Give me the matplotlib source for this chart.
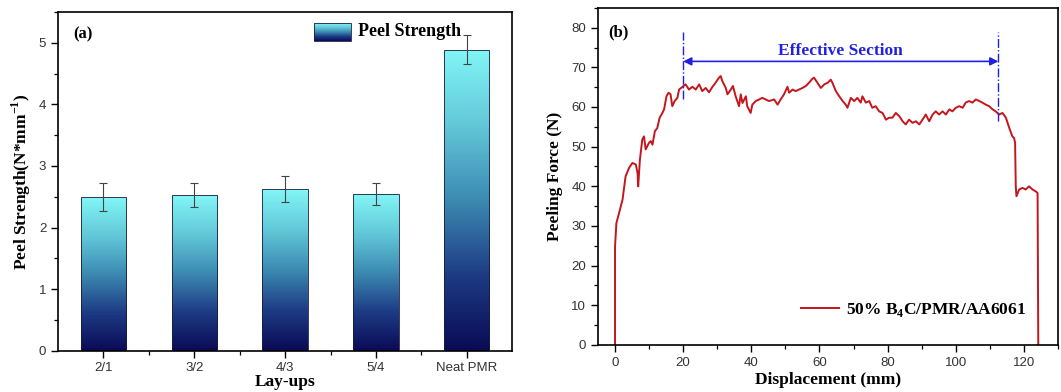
import numpy as np
import matplotlib
matplotlib.use("Agg")
import matplotlib.pyplot as plt
from matplotlib.colors import LinearSegmentedColormap
from matplotlib.image import BboxImage
from matplotlib.transforms import Bbox, TransformedBbox
from matplotlib.ticker import MultipleLocator, FixedLocator

# ---------------- data ----------------
layups = ["2/1", "3/2", "4/3", "5/4", "Neat PMR"]
peel_strength = [2.50, 2.53, 2.62, 2.54, 4.89]
peel_err = [0.23, 0.20, 0.21, 0.18, 0.24]

disp = [0.0, 0.0, 0.4, 1.2, 2.2, 3.1, 4.1, 5.1, 6.1, 6.6, 6.8, 7.3, 8.0, 8.5, 9.0,
        10.0, 10.5, 11.0, 11.7, 12.4, 13.1, 13.9, 14.4, 15.1, 15.7, 16.3, 16.8,
        17.5, 18.3, 18.8, 19.8, 20.7, 21.7, 22.7, 23.7, 24.7, 25.6, 26.6, 27.6,
        28.6, 29.5, 30.5, 31.0, 31.5, 32.5, 33.0, 34.0, 34.6, 35.4, 36.4, 36.9,
        37.4, 38.4, 38.8, 39.8, 40.3, 41.3, 42.3, 43.2, 44.2, 45.2, 46.7, 47.7,
        48.6, 49.6, 50.6, 51.1, 52.1, 53.0, 54.0, 55.0, 56.0, 56.9, 57.9, 58.4,
        59.4, 60.4, 61.4, 62.4, 63.3, 63.8, 64.8, 65.8, 66.8, 67.7, 68.2, 69.2,
        70.2, 71.1, 72.1, 72.6, 73.6, 74.6, 75.5, 76.5, 77.5, 78.5, 79.5, 80.4,
        81.4, 82.4, 83.4, 84.4, 85.3, 86.3, 87.3, 88.3, 89.3, 90.2, 91.2, 92.2,
        93.2, 94.1, 95.1, 96.1, 97.1, 98.1, 99.0, 100.0, 101.0, 102.0, 102.9,
        103.9, 104.9, 105.9, 106.9, 107.8, 108.8, 109.8, 110.8, 111.7, 112.7,
        113.7, 114.7, 115.7, 116.2, 116.6, 117.1, 117.4, 117.6, 117.8, 118.6,
        119.6, 120.5, 121.5, 122.5, 123.5, 124.0, 124.2]
force = [0.0, 24.8, 30.7, 33.3, 36.6, 42.5, 44.6, 45.9, 45.5, 43.4, 40.0, 46.7,
         51.8, 52.6, 49.3, 51.0, 51.4, 50.5, 53.9, 54.7, 57.3, 58.5, 59.4, 62.7,
         63.6, 63.2, 60.2, 61.5, 62.3, 64.4, 65.1, 65.7, 64.4, 65.1, 64.4, 65.7,
         64.0, 64.8, 63.7, 65.1, 66.1, 67.4, 67.8, 66.5, 64.8, 63.2, 64.4, 65.3,
         62.7, 60.2, 63.2, 61.0, 62.7, 60.2, 58.5, 60.6, 61.5, 61.9, 62.3, 61.9,
         61.5, 61.9, 60.6, 61.9, 63.2, 65.1, 63.6, 64.4, 64.0, 64.4, 64.8, 65.3,
         66.1, 67.1, 67.4, 66.1, 64.8, 65.7, 66.1, 66.9, 66.1, 64.0, 62.7, 61.5,
         60.6, 59.8, 62.3, 61.5, 62.3, 61.1, 62.7, 61.1, 61.5, 59.8, 60.2, 58.9,
         58.5, 56.8, 57.3, 57.3, 58.5, 57.7, 56.4, 55.6, 56.8, 56.0, 56.4, 55.6,
         56.8, 58.1, 56.4, 58.1, 58.9, 58.1, 58.9, 58.1, 59.4, 58.9, 59.8, 60.2,
         59.8, 61.1, 61.5, 61.1, 61.9, 61.5, 61.1, 60.6, 60.2, 59.4, 58.9, 58.1,
         58.5, 57.3, 54.7, 53.5, 52.6, 52.2, 51.0, 40.0, 37.5, 39.2, 39.6, 39.2,
         40.0, 39.2, 38.7, 38.3, 0.0]

effective_section = [20, 112.5]

# ---------------- style ----------------
serif = ["Liberation Serif", "DejaVu Serif"]
sans = ["Liberation Sans", "DejaVu Sans"]
plt.rcParams["font.family"] = sans
plt.rcParams["axes.linewidth"] = 1.2
plt.rcParams["mathtext.fontset"] = "custom"
plt.rcParams["mathtext.rm"] = "Liberation Serif"
plt.rcParams["mathtext.bf"] = "Liberation Serif:bold"

grad_cmap = LinearSegmentedColormap.from_list(
    "peel", ["#0a0a55", "#1d3b84", "#3c8ab2", "#62c8d8", "#82f6f6"])
grad = np.linspace(0, 1, 256).reshape(-1, 1)

fig = plt.figure(figsize=(10.61, 3.92), dpi=100)
ax1 = fig.add_axes([0.0547, 0.1054, 0.428, 0.864])
ax2 = fig.add_axes([0.5636, 0.12, 0.4336, 0.86])


def style_ticks(ax):
    ax.tick_params(which="major", direction="out", length=5, width=1.0,
                   labelsize=9.5, labelcolor="#333333", top=False, right=False)
    ax.tick_params(which="minor", direction="out", length=3, width=0.9,
                   top=False, right=False)


# ---------------- (a) peel strength bars ----------------
x = np.arange(1, len(layups) + 1)
bars = ax1.bar(x, peel_strength, width=0.5, color="none",
               edgecolor="#1a1a40", linewidth=0.6, zorder=3)
for b in bars:
    x0, y0 = b.get_x(), b.get_y()
    im = ax1.imshow(grad, cmap=grad_cmap, origin="lower", aspect="auto",
                    extent=(x0, x0 + b.get_width(), y0, y0 + b.get_height()),
                    zorder=2)
    im.set_clip_path(b)
ax1.errorbar(x, peel_strength, yerr=peel_err, fmt="none", ecolor="#444444",
             elinewidth=0.8, capsize=3, capthick=0.8, zorder=4)

ax1.set_xlim(0.5, 5.5)
ax1.set_ylim(0, 5.5)
ax1.set_xticks(x)
ax1.set_xticklabels(layups)
ax1.xaxis.set_minor_locator(FixedLocator(x[:-1] + 0.5))
ax1.yaxis.set_major_locator(MultipleLocator(1))
ax1.yaxis.set_minor_locator(MultipleLocator(0.5))
style_ticks(ax1)
ax1.set_xlabel("Lay-ups", family=serif, fontweight="bold", fontsize=12.5,
               labelpad=0)
ax1.set_ylabel(r"Peel Strength(N*mm$^{\mathbf{-1}}$)", family=serif,
               fontweight="bold", fontsize=12.5, labelpad=4)
ax1.text(0.033, 0.935, "(a)", transform=ax1.transAxes, family=serif,
         fontweight="bold", fontsize=12, va="center")

# legend with gradient swatch
bb = TransformedBbox(Bbox.from_extents(0.564, 0.915, 0.645, 0.968), ax1.transAxes)
swatch = BboxImage(bb, cmap=grad_cmap, origin="lower", zorder=5)
swatch.set_data(grad)
ax1.add_artist(swatch)
ax1.add_patch(plt.Rectangle((0.564, 0.915), 0.081, 0.053, transform=ax1.transAxes,
                            fill=False, edgecolor="#1a1a40", lw=0.6, zorder=6))
ax1.text(0.66, 0.943, "Peel Strength", transform=ax1.transAxes, family=serif,
         fontweight="bold", fontsize=13, va="center")

# ---------------- (b) peeling force curve ----------------
ax2.plot(disp, force, color="#c4161c", lw=1.4,
         label=r"50% B$_{\mathbf{4}}$C/PMR/AA6061")
ax2.set_xlim(-5, 130)
ax2.set_ylim(0, 85)
ax2.xaxis.set_major_locator(MultipleLocator(20))
ax2.xaxis.set_minor_locator(MultipleLocator(10))
ax2.yaxis.set_major_locator(MultipleLocator(10))
ax2.yaxis.set_minor_locator(MultipleLocator(5))
style_ticks(ax2)
ax2.set_xlabel("Displacement (mm)", family=serif, fontweight="bold",
               fontsize=12.5, labelpad=2)
ax2.set_ylabel("Peeling Force (N)", family=serif, fontweight="bold",
               fontsize=12.5, labelpad=6)
ax2.text(0.022, 0.926, "(b)", transform=ax2.transAxes, family=serif,
         fontweight="bold", fontsize=12, va="center")

# effective section marker
ax2.vlines(effective_section[0], 62, 79, colors="#2020e0", linestyles="-.", lw=1.0)
ax2.vlines(effective_section[1], 56.5, 79, colors="#2020e0", linestyles="-.", lw=1.0)
ax2.annotate("", xy=(effective_section[0], 71.5), xytext=(effective_section[1], 71.5),
             arrowprops=dict(arrowstyle="<|-|>", color="#2020e0", lw=1.2,
                             mutation_scale=12, shrinkA=0, shrinkB=0))
ax2.text(sum(effective_section) / 2, 74.2, "Effective Section", color="#2020e0",
         family=serif, fontweight="bold", fontsize=12.5, ha="center", va="center")

leg = ax2.legend(loc="lower right", bbox_to_anchor=(0.965, 0.03), frameon=False,
                 handlelength=2.2, handletextpad=0.4,
                 prop=dict(family=serif, weight="bold", size=12.5))

fig.savefig("out.png", dpi=100)
